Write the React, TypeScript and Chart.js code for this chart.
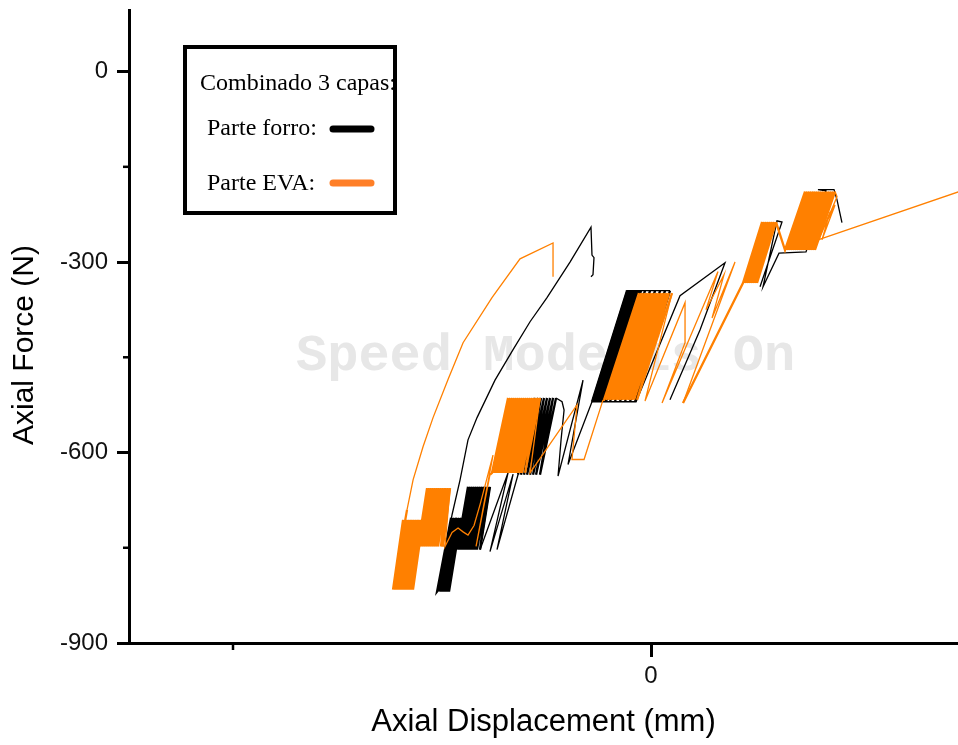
import { useEffect, useRef } from "react";
import { Chart, registerables } from "chart.js";

Chart.register(...registerables);

type P = [number, number];

// ---- axes ----
const xRange = [-6.244, 3.672];
const yRange = [-900, 97];
const xMajorTicks = [0];
const xMinorTicks = [-5];
const yMajorTicks = [-900, -600, -300, 0];
const yMinorTicks = [-750, -450, -150];

const xTitle = "Axial Displacement (mm)";
const yTitle = "Axial Force (N)";
const legendTitle = "Combinado 3 capas:";
const legendForro = "Parte forro:";
const legendEva = "Parte EVA:";
const watermarkText = "Speed Mode is On";

// ---- Parte forro (black) ----
const forroRamp: P[] = [
  [-0.718, -323], [-0.694, -320], [-0.682, -293], [-0.706, -289], [-0.718, -245],
  [-0.969, -300], [-1.244, -356], [-1.447, -394], [-1.65, -438], [-1.866, -486],
  [-2.081, -545], [-2.189, -580], [-2.284, -643], [-2.38, -698], [-2.464, -761], [-2.524, -813],
];
const forroBand1Force = [-819, -703];
const forroBand1AtMin = [-2.559, -2.536, -2.512, -2.488, -2.464, -2.44, -2.416];
const forroBand1AtMax = [-2.392, -2.38, -2.356, -2.332, -2.32, -2.296, -2.272];

const forroBand2Force = [-753, -654];
const forroBand2AtMin = [-2.32, -2.296, -2.272, -2.248, -2.225, -2.201, -2.177, -2.153, -2.129, -2.105, -2.081, -2.045];
const forroBand2AtMax = [-2.189, -2.165, -2.141, -2.117, -2.093, -2.069, -2.045, -2.021, -1.997, -1.973, -1.949, -1.926];

const forroDrift1: P[] = [
  [-2.045, -753], [-1.71, -632], [-1.926, -756], [-1.65, -634], [-1.842, -753], [-1.591, -635],
];

const forroBand3Force = [-635, -514];
const forroBand3AtMin = [-1.591, -1.555, -1.519, -1.483, -1.447, -1.411, -1.375, -1.328];
const forroBand3AtMax = [-1.387, -1.351, -1.316, -1.28, -1.244, -1.208, -1.172, -1.136];

const forroDrift2: P[] = [
  [-1.064, -520], [-1.04, -533], [-1.076, -580], [-1.112, -637], [-0.813, -486], [-0.993, -619], [-0.706, -520],
];

const forroBand4Force = [-520, -345];
const forroBand4AtMin = [-0.706, -0.682, -0.658, -0.634, -0.61, -0.586, -0.562, -0.538, -0.49, -0.431, -0.371, -0.311, -0.251, -0.191];
const forroBand4AtMax = [-0.287, -0.263, -0.239, -0.215, -0.191, -0.167, -0.144, -0.12, -0.072, -0.012, 0.048, 0.108, 0.167, 0.227];

const forroDrift3: P[] = [
  [-0.287, -345], [-0.706, -520], [-0.179, -520], [0.347, -353], [0.885, -301], [0.586, -407], [0.227, -517],
];

const forroUpper: P[] = [
  [1.304, -339], [1.567, -237], [1.507, -235], [1.34, -339], [1.531, -286], [1.854, -284],
  [2.093, -188], [1.997, -186], [2.189, -186], [2.225, -202], [2.284, -238],
];

// ---- Parte EVA (orange) ----
const evaRamp: P[] = [
  [-1.172, -323], [-1.172, -270], [-1.567, -295], [-1.902, -356], [-2.248, -427],
  [-2.428, -485], [-2.607, -545], [-2.727, -591], [-2.846, -643], [-2.918, -690],
];
const evaBand1Force = [-816, -706];
const evaBand1AtMin = [-3.086, -3.062, -3.038, -3.014, -2.99, -2.978, -2.954, -2.93, -2.918, -2.894, -2.87, -2.847];
const evaBand1AtMax = [-2.966, -2.93, -2.918, -2.894, -2.87, -2.858, -2.835, -2.811, -2.787, -2.775, -2.751, -2.727];

const evaBand2Force = [-748, -656];
const evaBand2AtMin = [-2.787, -2.763, -2.739, -2.715, -2.691, -2.667, -2.643, -2.619, -2.595, -2.571, -2.547, -2.512, -2.488];
const evaBand2AtMax = [-2.679, -2.655, -2.631, -2.607, -2.583, -2.559, -2.536, -2.512, -2.488, -2.464, -2.452, -2.428, -2.404];

const evaDrift1: P[] = [
  [-2.464, -748], [-2.38, -726], [-2.308, -719], [-2.248, -725], [-2.189, -730], [-2.117, -715],
  [-2.045, -682], [-1.961, -640], [-1.89, -604], [-2.093, -748], [-1.926, -635],
];

const evaBand3Force = [-632, -514];
const evaBand3AtMin = [-1.902, -1.878, -1.854, -1.83, -1.806, -1.782, -1.758, -1.734, -1.71, -1.686, -1.662, -1.639, -1.615, -1.591, -1.567, -1.543, -1.507];
const evaBand3AtMax = [-1.71, -1.686, -1.662, -1.639, -1.615, -1.591, -1.567, -1.543, -1.519, -1.495, -1.471, -1.447, -1.423, -1.399, -1.375, -1.351, -1.328];

const evaDrift2: P[] = [
  [-1.447, -632], [-0.885, -525], [-0.945, -611], [-0.801, -611], [-0.574, -517],
];

const evaBand4Force = [-517, -349];
const evaBand4AtMin = [-0.562, -0.538, -0.514, -0.49, -0.466, -0.443, -0.419, -0.395, -0.371, -0.347, -0.323, -0.299, -0.275, -0.251, -0.227, -0.203, -0.167];
const evaBand4AtMax = [-0.144, -0.12, -0.096, -0.072, -0.048, -0.024, 0.0, 0.024, 0.048, 0.072, 0.096, 0.12, 0.144, 0.167, 0.191, 0.215, 0.251];

const evaDrift3: P[] = [
  [-0.072, -519], [0.407, -364], [0.407, -427], [0.132, -522], [0.801, -315], [0.658, -375],
  [0.873, -320], [0.73, -388], [1.005, -300], [0.383, -522],
];

const evaBand5Force = [-333, -237];
const evaBand5AtMin = [1.1, 1.124, 1.148, 1.172, 1.196, 1.22, 1.244, 1.268];
const evaBand5AtMax = [1.328, 1.351, 1.375, 1.399, 1.423, 1.447, 1.471, 1.495];

const evaBand6Force = [-281, -189];
const evaBand6AtMin = [1.603, 1.627, 1.65, 1.674, 1.698, 1.722, 1.746, 1.77, 1.794, 1.818, 1.842, 1.866, 1.89, 1.914, 1.938, 1.961];
const evaBand6AtMax = [1.842, 1.866, 1.89, 1.914, 1.938, 1.961, 1.985, 2.009, 2.033, 2.057, 2.081, 2.105, 2.129, 2.153, 2.177, 2.201];

const evaUnload: P[] = [
  [2.225, -197], [1.997, -268], [2.141, -221], [2.045, -265], [2.201, -210], [1.997, -265], [4.0, -175],
];

const BLACK = "#000000";
const ORANGE = "#ff8000";
const LEGEND_ORANGE = "#ff7f27";
const FONT_SANS = '"Liberation Sans", Arial, sans-serif';

function cycles(atMin: number[], atMax: number[], force: number[]): P[] {
  const out: P[] = [];
  for (let i = 0; i < atMin.length; i++) {
    out.push([atMin[i], force[0]]);
    if (i < atMax.length) out.push([atMax[i], force[1]]);
  }
  return out;
}

type Piece = { pts: P[]; dense: boolean };

const toXY = (pts: P[]) => pts.map(([x, y]) => ({ x, y }));

const watermarkPlugin = {
  id: "watermark",
  beforeDatasetsDraw(chart: any) {
    const ctx = chart.ctx;
    ctx.save();
    ctx.font = 'bold 52px "Liberation Mono", monospace';
    ctx.fillStyle = "#e7e7e7";
    ctx.textBaseline = "alphabetic";
    ctx.textAlign = "left";
    ctx.fillText(watermarkText, 296, 370);
    ctx.restore();
  },
};

const minorTickPlugin = {
  id: "minorTicks",
  afterDraw(chart: any) {
    const ctx = chart.ctx;
    const { left, bottom } = chart.chartArea;
    const xs = chart.scales.x;
    const ys = chart.scales.y;
    ctx.save();
    ctx.strokeStyle = "#000";
    ctx.lineWidth = 2.5;
    for (const v of yMinorTicks) {
      const py = ys.getPixelForValue(v);
      ctx.beginPath();
      ctx.moveTo(left - 6, py);
      ctx.lineTo(left, py);
      ctx.stroke();
    }
    for (const v of xMinorTicks) {
      const px = xs.getPixelForValue(v);
      ctx.beginPath();
      ctx.moveTo(px, bottom);
      ctx.lineTo(px, bottom + 7);
      ctx.stroke();
    }
    // y-axis title (sits a little below the axis centre in the original)
    ctx.fillStyle = "#000";
    ctx.font = `30px ${FONT_SANS}`;
    ctx.textAlign = "center";
    ctx.textBaseline = "middle";
    ctx.translate(25, 345);
    ctx.rotate(-Math.PI / 2);
    ctx.fillText(yTitle, 0, 0);
    ctx.restore();
  },
};

const legendBoxPlugin = {
  id: "legendBox",
  afterDraw(chart: any) {
    const ctx = chart.ctx;
    ctx.save();
    ctx.fillStyle = "#ffffff";
    ctx.fillRect(185, 47, 210, 166);
    ctx.strokeStyle = "#000";
    ctx.lineWidth = 4;
    ctx.strokeRect(185, 47, 210, 166);
    ctx.fillStyle = "#000";
    ctx.font = '24px "Liberation Serif", "Times New Roman", serif';
    ctx.textBaseline = "alphabetic";
    ctx.textAlign = "left";
    ctx.fillText(legendTitle, 200, 90);
    ctx.fillText(legendForro, 207, 135);
    ctx.fillText(legendEva, 207, 190);
    ctx.lineCap = "round";
    ctx.lineWidth = 7;
    ctx.strokeStyle = BLACK;
    ctx.beginPath();
    ctx.moveTo(333, 129);
    ctx.lineTo(371, 129);
    ctx.stroke();
    ctx.strokeStyle = LEGEND_ORANGE;
    ctx.beginPath();
    ctx.moveTo(333, 183);
    ctx.lineTo(371, 183);
    ctx.stroke();
    ctx.restore();
  },
};

export default function App() {
  const canvasRef = useRef<HTMLCanvasElement | null>(null);

  useEffect(() => {
    if (!canvasRef.current) return;

    const forroPieces: Piece[] = [
      { pts: forroRamp, dense: false },
      { pts: cycles(forroBand1AtMin, forroBand1AtMax, forroBand1Force), dense: true },
      { pts: cycles(forroBand2AtMin, forroBand2AtMax, forroBand2Force), dense: true },
      { pts: forroDrift1, dense: false },
      { pts: cycles(forroBand3AtMin, forroBand3AtMax, forroBand3Force), dense: true },
      { pts: forroDrift2, dense: false },
      { pts: cycles(forroBand4AtMin, forroBand4AtMax, forroBand4Force), dense: true },
      { pts: forroDrift3, dense: false },
    ];
    const forroUpperPieces: Piece[] = [{ pts: forroUpper, dense: false }];
    const evaPieces: Piece[] = [
      { pts: evaRamp, dense: false },
      { pts: cycles(evaBand1AtMin, evaBand1AtMax, evaBand1Force), dense: true },
      { pts: cycles(evaBand2AtMin, evaBand2AtMax, evaBand2Force), dense: true },
      { pts: evaDrift1, dense: false },
      { pts: cycles(evaBand3AtMin, evaBand3AtMax, evaBand3Force), dense: true },
      { pts: evaDrift2, dense: false },
      { pts: cycles(evaBand4AtMin, evaBand4AtMax, evaBand4Force), dense: true },
      { pts: evaDrift3, dense: false },
      { pts: cycles(evaBand5AtMin, evaBand5AtMax, evaBand5Force), dense: true },
      { pts: cycles(evaBand6AtMin, evaBand6AtMax, evaBand6Force), dense: true },
      { pts: evaUnload, dense: false },
    ];

    const chain = (label: string, pieces: Piece[], color: string, order: number) =>
      pieces.map((pc, i) => {
        const prev = i > 0 ? [pieces[i - 1].pts[pieces[i - 1].pts.length - 1]] : [];
        return {
          label,
          data: toXY([...prev, ...pc.pts]),
          showLine: true,
          borderColor: color,
          backgroundColor: color,
          borderWidth: pc.dense ? 2.3 : 1.3,
          pointRadius: 0,
          pointHoverRadius: 0,
          tension: 0,
          fill: false,
          order,
        };
      });

    const tickFont = { family: FONT_SANS, size: 24 };
    const titleFont = { family: FONT_SANS, size: 31 };

    const chart = new Chart(canvasRef.current, {
      type: "scatter",
      data: {
        datasets: [
          ...chain("Parte EVA", evaPieces, ORANGE, 0),
          ...chain("Parte forro", forroPieces, BLACK, 1),
          ...chain("Parte forro", forroUpperPieces, BLACK, 1),
        ],
      },
      options: {
        animation: false,
        responsive: true,
        maintainAspectRatio: false,
        layout: { padding: { top: 10, left: 0, right: 0, bottom: 0 } },
        plugins: {
          legend: { display: false },
          tooltip: { enabled: false },
        },
        scales: {
          x: {
            type: "linear",
            min: xRange[0],
            max: xRange[1],
            afterBuildTicks: (s: any) => {
              s.ticks = xMajorTicks.map((value) => ({ value }));
            },
            afterFit: (s: any) => {
              s.height = 102;
              s.paddingLeft = 0;
              s.paddingRight = 0;
            },
            grid: {
              display: true,
              drawOnChartArea: false,
              drawTicks: true,
              tickLength: 14,
              tickWidth: 3,
              tickColor: "#000",
              color: "#000",
              lineWidth: 3,
            },
            border: { display: true, color: "#000", width: 3 },
            ticks: {
              color: "#111",
              font: tickFont,
              padding: 5,
              autoSkip: false,
              maxRotation: 0,
              callback: (v: any) => String(v),
            },
            title: {
              display: true,
              text: xTitle,
              color: "#000",
              font: titleFont,
              padding: { top: 0, bottom: 4 },
            },
          },
          y: {
            type: "linear",
            min: yRange[0],
            max: yRange[1],
            afterBuildTicks: (s: any) => {
              s.ticks = yMajorTicks.map((value) => ({ value }));
            },
            afterFit: (s: any) => {
              s.width = 129;
              s.paddingTop = 0;
              s.paddingBottom = 0;
            },
            grid: {
              display: true,
              drawOnChartArea: false,
              drawTicks: true,
              tickLength: 12,
              tickWidth: 3,
              tickColor: "#000",
              color: "#000",
              lineWidth: 3,
            },
            border: { display: true, color: "#000", width: 3 },
            ticks: {
              color: "#111",
              font: tickFont,
              padding: 9,
              autoSkip: false,
              callback: (v: any) => String(v),
            },
            title: { display: false },
          },
        },
      },
      plugins: [watermarkPlugin, minorTickPlugin, legendBoxPlugin],
    } as any);

    return () => chart.destroy();
  }, []);

  return (
    <div
      style={{
        position: "fixed",
        left: 0,
        top: 0,
        width: 958,
        height: 745,
        background: "#fff",
      }}
    >
      <canvas ref={canvasRef} />
    </div>
  );
}
